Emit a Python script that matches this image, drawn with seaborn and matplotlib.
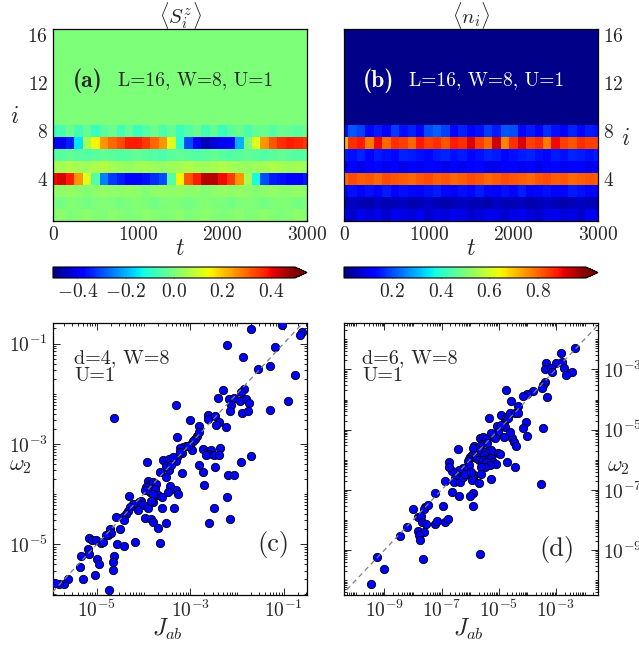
import numpy as np
import matplotlib
matplotlib.use("Agg")
import matplotlib.pyplot as plt
from matplotlib.ticker import LogLocator, NullFormatter
import seaborn as sns

# ---- heatmap data: rows i=1..8, sampled every 100 in t ----
t = np.arange(0, 3001, 100)
sites = np.arange(1, 17)

sz_row1 = [0.01, 0.02, 0.0, 0.01, 0.02, 0.01, 0.0, 0.02, 0.01, 0.0, 0.01, 0.02, 0.01, 0.0, 0.01, 0.02,
           0.0, 0.01, 0.02, 0.01, 0.0, 0.01, 0.02, 0.0, 0.01, 0.02, 0.01, 0.0, 0.01, 0.02, 0.01]
sz_row2 = [0.0, -0.01, 0.01, 0.0, -0.01, 0.0, 0.01, 0.0, -0.01, 0.0, 0.01, 0.0, -0.01, 0.0, 0.01, 0.0,
           -0.01, 0.0, 0.01, 0.0, 0.0, -0.01, 0.0, 0.01, 0.0, -0.01, 0.0, 0.01, 0.0, -0.01, 0.0]
sz_row3 = [0.03, 0.02, 0.03, 0.02, 0.01, 0.02, 0.03, 0.02, 0.02, 0.03, 0.02, 0.01, 0.02, 0.03, 0.02, 0.03,
           0.02, 0.02, 0.01, 0.02, 0.03, 0.02, 0.03, 0.02, 0.01, 0.02, 0.03, 0.02, 0.02, 0.03, 0.02]
sz_row4 = [0.40, 0.42, 0.38, 0.25, 0.12, -0.05, -0.25, -0.32, -0.35, -0.38, -0.38, -0.36, -0.33, -0.30, -0.05, 0.15,
           0.32, 0.38, 0.45, 0.45, 0.40, 0.35, 0.25, 0.05, -0.12, -0.30, -0.35, -0.36, -0.38, -0.38, -0.35]
sz_row5 = [0.04, 0.05, 0.06, 0.05, 0.04, 0.06, 0.07, 0.05, 0.04, 0.03, 0.04, 0.05, 0.04, 0.03, 0.04, 0.05,
           0.06, 0.05, 0.04, 0.05, 0.06, 0.05, 0.04, 0.03, 0.04, 0.05, 0.06, 0.05, 0.04, 0.05, 0.04]
sz_row6 = [-0.05, -0.04, -0.03, -0.04, -0.05, -0.04, -0.03, -0.04, -0.05, -0.04, -0.03, -0.04, -0.05, -0.06, -0.04, -0.03,
           -0.04, -0.05, -0.04, -0.03, -0.04, -0.05, -0.04, -0.03, -0.04, -0.05, -0.04, -0.03, -0.04, -0.05, -0.04]
sz_row7 = [-0.40, -0.40, -0.35, -0.15, 0.05, 0.15, 0.25, 0.30, 0.33, 0.38, 0.38, 0.35, 0.30, 0.25, 0.12, -0.10,
           -0.30, -0.38, -0.45, -0.42, -0.40, -0.38, -0.20, 0.0, 0.12, 0.25, 0.32, 0.36, 0.38, 0.37, 0.35]
sz_row8 = [-0.08, -0.06, -0.02, -0.07, -0.03, -0.08, -0.04, -0.02, -0.07, -0.03, -0.08, -0.05, -0.02, -0.06, -0.03, -0.08,
           -0.05, -0.02, -0.07, -0.03, -0.08, -0.04, -0.02, -0.06, -0.03, -0.02, -0.05, -0.02, -0.03, -0.04, -0.02]
sz_upper = 0.0

n_row1 = [0.09, 0.07, 0.10, 0.08, 0.09, 0.07, 0.10, 0.09, 0.08, 0.10, 0.07, 0.09, 0.08, 0.10, 0.09, 0.07,
          0.08, 0.10, 0.09, 0.07, 0.09, 0.10, 0.08, 0.07, 0.09, 0.10, 0.08, 0.09, 0.07, 0.10, 0.09]
n_row2 = [0.05, 0.06, 0.05, 0.04, 0.06, 0.05, 0.05, 0.06, 0.04, 0.05, 0.06, 0.05, 0.04, 0.05, 0.06, 0.05,
          0.05, 0.04, 0.06, 0.05, 0.05, 0.06, 0.04, 0.05, 0.06, 0.05, 0.04, 0.05, 0.06, 0.05, 0.05]
n_row3 = [0.13, 0.14, 0.12, 0.14, 0.13, 0.15, 0.12, 0.14, 0.13, 0.12, 0.14, 0.15, 0.13, 0.12, 0.14, 0.13,
          0.15, 0.13, 0.12, 0.14, 0.13, 0.15, 0.12, 0.13, 0.14, 0.12, 0.13, 0.15, 0.14, 0.12, 0.13]
n_row4 = [0.80, 0.83, 0.81, 0.82, 0.80, 0.83, 0.82, 0.81, 0.80, 0.82, 0.83, 0.81, 0.82, 0.80, 0.81, 0.83,
          0.82, 0.80, 0.81, 0.83, 0.82, 0.81, 0.80, 0.82, 0.83, 0.81, 0.82, 0.80, 0.81, 0.82, 0.81]
n_row5 = [0.10, 0.12, 0.09, 0.11, 0.13, 0.10, 0.12, 0.09, 0.11, 0.10, 0.13, 0.11, 0.09, 0.12, 0.10, 0.11,
          0.13, 0.10, 0.09, 0.12, 0.11, 0.10, 0.12, 0.09, 0.11, 0.13, 0.10, 0.12, 0.11, 0.09, 0.11]
n_row6 = [0.15, 0.14, 0.16, 0.13, 0.15, 0.14, 0.13, 0.16, 0.15, 0.14, 0.13, 0.15, 0.16, 0.14, 0.15, 0.13,
          0.14, 0.16, 0.15, 0.13, 0.14, 0.15, 0.16, 0.14, 0.13, 0.15, 0.14, 0.16, 0.15, 0.14, 0.15]
n_row7 = [0.72, 0.86, 0.88, 0.78, 0.90, 0.80, 0.86, 0.84, 0.80, 0.88, 0.84, 0.86, 0.82, 0.88, 0.86, 0.92,
          0.84, 0.80, 0.93, 0.77, 0.86, 0.92, 0.84, 0.86, 0.78, 0.90, 0.84, 0.82, 0.86, 0.84, 0.84]
n_row8 = [0.14, 0.21, 0.19, 0.13, 0.15, 0.12, 0.18, 0.14, 0.16, 0.12, 0.20, 0.22, 0.19, 0.13, 0.16, 0.12,
          0.14, 0.18, 0.15, 0.21, 0.20, 0.13, 0.15, 0.12, 0.17, 0.14, 0.12, 0.16, 0.13, 0.15, 0.14]
n_upper = 0.01

# ---- scatter data (log10 values) ----
c_jab_log = [-1.04, -1.69, -0.61, -0.66, -2.21, -1.19, -1.87, -1.54, -1.29, -0.76,
             -2.29, -1.86, -1.91, -2.40, -2.18, -2.06, -1.93, -1.81, -1.75, -2.12,
             -2.14, -1.89, -1.77, -1.29, -0.91, -3.31, -2.61, -2.62, -2.48, -3.01,
             -2.38, -2.45, -2.82, -2.23, -3.29, -2.85, -2.89, -2.94, -3.01, -3.09,
             -3.16, -3.23, -2.96, -3.18, -3.28, -2.73, -2.62, -2.56, -2.37, -2.61,
             -2.49, -2.39, -2.66, -1.69, -1.91, -2.82, -2.46, -3.17, -2.73, -2.19,
             -2.06, -2.71, -3.30, -3.26, -2.21, -3.34, -2.50, -2.15, -2.59, -3.30,
             -3.93, -3.59, -3.46, -3.37, -3.64, -3.46, -3.53, -3.91, -3.87, -3.80,
             -3.73, -3.94, -3.96, -3.87, -3.76, -3.43, -4.32, -3.69, -3.61, -4.09,
             -4.05, -4.11, -4.01, -4.23, -4.29, -4.34, -3.80, -3.91, -3.60, -4.11,
             -4.37, -4.44, -4.43, -4.59, -3.96, -3.84, -3.79, -4.51, -4.71, -4.76,
             -4.69, -4.81, -3.69, -3.53, -5.16, -5.11, -5.01, -4.91, -4.86, -4.56,
             -4.42, -4.18, -3.64, -5.19, -5.34, -5.17, -4.99, -4.64, -4.65, -4.96,
             -4.66, -5.37, -5.05, -5.29, -5.61, -5.71, -5.81, -5.89, -4.73, -4.64,
             -3.23, -3.05, -2.81, -3.51, -3.41, -3.80, -3.48, -3.84]
c_w2_log = [-0.62, -0.71, -0.77, -0.83, -1.03, -1.07, -1.26, -1.51, -1.44, -1.63,
            -1.92, -1.91, -1.97, -2.09, -2.10, -2.09, -2.15, -2.11, -2.19, -2.23,
            -2.35, -2.39, -2.35, -2.33, -2.15, -2.22, -2.42, -2.50, -2.45, -2.52,
            -2.57, -2.62, -2.65, -2.67, -2.86, -2.84, -2.90, -2.94, -3.02, -3.05,
            -3.06, -3.08, -3.12, -3.18, -3.27, -3.10, -3.14, -3.12, -3.08, -3.20,
            -3.22, -3.22, -3.23, -3.24, -3.35, -3.41, -3.45, -3.57, -3.55, -3.62,
            -3.62, -3.81, -3.92, -4.00, -4.05, -4.27, -4.28, -4.49, -4.58, -3.34,
            -3.35, -3.32, -3.30, -3.26, -3.55, -3.52, -3.65, -3.74, -3.81, -3.75,
            -3.79, -3.85, -3.92, -3.95, -3.89, -3.83, -4.03, -4.02, -4.05, -4.15,
            -4.14, -4.18, -4.22, -4.20, -4.26, -4.34, -4.15, -4.27, -4.27, -4.32,
            -4.40, -4.45, -4.52, -4.46, -4.48, -4.50, -4.55, -4.69, -4.69, -4.81,
            -4.78, -4.81, -4.67, -4.57, -4.88, -4.91, -4.91, -4.98, -4.95, -5.00,
            -5.03, -4.96, -4.97, -5.10, -5.23, -5.20, -5.30, -5.24, -5.36, -5.40,
            -5.51, -5.46, -5.62, -5.69, -5.69, -5.79, -5.80, -5.78, -5.91, -2.49,
            -3.16, -3.04, -2.76, -3.43, -3.42, -3.99, -3.95, -4.14]

d_jab_log = [-2.35, -2.81, -2.99, -2.79, -2.72, -3.34, -3.37, -3.19, -3.14, -2.44,
             -2.64, -3.40, -3.44, -3.49, -3.30, -4.76, -3.80, -4.00, -4.14, -4.56,
             -4.33, -4.06, -3.44, -4.15, -4.00, -5.35, -4.91, -4.79, -4.73, -4.67,
             -4.62, -5.06, -4.79, -4.93, -4.44, -4.33, -5.02, -4.83, -4.53, -4.47,
             -4.38, -4.59, -5.16, -5.12, -5.28, -5.66, -5.55, -5.49, -5.43, -5.40,
             -5.86, -5.90, -5.66, -5.64, -5.26, -5.02, -4.97, -5.49, -5.51, -5.40,
             -5.26, -4.70, -5.93, -6.01, -6.05, -5.78, -5.70, -5.60, -5.55, -6.09,
             -5.43, -5.20, -5.08, -5.31, -5.47, -5.63, -6.07, -4.44, -6.13, -5.86,
             -5.63, -5.90, -5.93, -5.69, -5.26, -3.51, -5.90, -5.99, -5.90, -5.66,
             -6.74, -6.05, -6.24, -6.40, -6.48, -6.65, -6.53, -6.56, -6.36, -6.24,
             -6.19, -5.98, -6.88, -6.63, -6.40, -7.23, -6.94, -7.58, -7.60, -7.47,
             -7.99, -7.84, -7.73, -7.67, -7.55, -7.23, -7.15, -6.88, -6.77, -8.22,
             -7.81, -7.60, -7.79, -7.76, -8.45, -9.24, -7.66, -9.00, -9.47, -6.73,
             -6.42]
d_w2_log = [-2.30, -2.47, -2.78, -2.77, -2.94, -2.78, -3.00, -2.97, -3.08, -3.08,
            -3.17, -3.41, -3.52, -3.63, -3.93, -3.69, -3.72, -3.83, -3.87, -4.05,
            -4.20, -4.76, -4.96, -4.96, -5.20, -4.60, -4.51, -4.68, -4.57, -4.62,
            -4.46, -4.87, -4.90, -4.85, -4.46, -4.46, -5.07, -5.23, -5.27, -5.42,
            -5.53, -5.07, -5.23, -5.29, -5.12, -5.29, -5.23, -5.40, -5.31, -5.45,
            -5.53, -5.60, -5.53, -5.67, -5.67, -5.78, -5.82, -5.73, -5.84, -5.97,
            -5.95, -6.06, -5.84, -5.90, -5.97, -5.95, -6.01, -6.06, -6.01, -6.04,
            -6.07, -6.07, -6.13, -6.16, -6.24, -6.24, -6.24, -6.24, -6.46, -6.51,
            -6.46, -6.62, -6.68, -6.76, -6.65, -6.81, -7.09, -7.20, -7.53, -9.14,
            -6.07, -6.18, -6.29, -6.35, -6.46, -6.38, -6.62, -6.73, -6.73, -6.57,
            -6.46, -6.40, -6.71, -7.07, -7.20, -7.09, -7.53, -7.56, -7.62, -7.51,
            -7.62, -7.90, -7.87, -8.06, -8.14, -8.14, -8.03, -8.06, -7.97, -8.23,
            -8.37, -8.39, -8.50, -8.67, -8.54, -9.22, -9.29, -9.63, -10.14, -6.24,
            -5.65]

sns.set_style("ticks")
plt.rcParams["font.family"] = ["serif"]
plt.rcParams["font.serif"] = ["cmr10"]
plt.rcParams["mathtext.fontset"] = "cm"
plt.rcParams["axes.formatter.use_mathtext"] = True
plt.rcParams["axes.edgecolor"] = "black"
plt.rcParams["axes.linewidth"] = 0.9

sz = np.vstack([sz_row1, sz_row2, sz_row3, sz_row4, sz_row5, sz_row6, sz_row7, sz_row8]
               + [np.full(len(t), sz_upper)] * 8)
nn = np.vstack([n_row1, n_row2, n_row3, n_row4, n_row5, n_row6, n_row7, n_row8]
               + [np.full(len(t), n_upper)] * 8)

fig = plt.figure(figsize=(6.39, 6.51), dpi=100)

W = 254 / 639
ax_a = fig.add_axes([53 / 639, 1 - 221 / 651, W, 192 / 651])
ax_b = fig.add_axes([344 / 639, 1 - 221 / 651, W, 192 / 651])
cax_a = fig.add_axes([53 / 639, 1 - 278 / 651, W, 11 / 651])
cax_b = fig.add_axes([344 / 639, 1 - 278 / 651, W, 11 / 651])
ax_c = fig.add_axes([53 / 639, 1 - 595 / 651, W, 272 / 651])
ax_d = fig.add_axes([344 / 639, 1 - 595 / 651, W, 272 / 651])

TICK = 14

m_a = ax_a.pcolormesh(t, sites, sz, cmap="jet", vmin=-0.5, vmax=0.5, shading="nearest")
m_b = ax_b.pcolormesh(t, sites, nn, cmap="jet", vmin=0.0, vmax=1.0, shading="nearest")

for ax in (ax_a, ax_b):
    ax.set_xlim(0, 3000)
    ax.set_ylim(0.5, 16.5)
    ax.set_xticks([0, 1000, 2000, 3000])
    ax.set_yticks([4, 8, 12, 16])
    ax.tick_params(direction="in", top=True, right=True, labelsize=TICK, length=4, width=0.8)
    ax.set_xlabel(r"$t$", fontsize=17)
    ax.xaxis.set_label_coords(0.5, -0.09)

ax_a.set_ylabel(r"$i$", fontsize=17, rotation=0, va="center")
ax_a.yaxis.set_label_coords(-0.15, 0.54)
ax_b.yaxis.tick_right()
ax_b.tick_params(left=True, labelleft=False, labelright=True)
ax_b.yaxis.set_label_position("right")
ax_b.set_ylabel(r"$i$", fontsize=17, rotation=0, va="center")
ax_b.yaxis.set_label_coords(1.11, 0.43)

ax_a.set_title(r"$\langle S_i^z\rangle$", fontsize=15, pad=4)
ax_b.set_title(r"$\langle n_i\rangle$", fontsize=15, pad=4)

ax_a.text(236, 12.2, "(a)", fontfamily="cmb10", fontsize=17, va="center")
ax_a.text(768, 12.2, "L=16, W=8, U=1", fontsize=14, va="center")
ax_b.text(224, 12.2, "(b)", fontfamily="cmb10", fontsize=17, va="center", color="white")
ax_b.text(768, 12.2, "L=16, W=8, U=1", fontsize=14, va="center", color="white")

cb_a = fig.colorbar(m_a, cax=cax_a, orientation="horizontal", extend="max",
                    ticks=[-0.4, -0.2, 0.0, 0.2, 0.4])
cb_b = fig.colorbar(m_b, cax=cax_b, orientation="horizontal", extend="max",
                    ticks=[0.2, 0.4, 0.6, 0.8])
cb_a.ax.set_xticklabels([r"$-0.4$", r"$-0.2$", r"$0.0$", r"$0.2$", r"$0.4$"])
cb_b.ax.set_xticklabels([r"$0.2$", r"$0.4$", r"$0.6$", r"$0.8$"])
for cb in (cb_a, cb_b):
    cb.ax.tick_params(direction="in", labelsize=TICK, length=3, width=0.6, top=True)
    cb.outline.set_linewidth(0.8)

# ---- scatter panels ----
for ax, xs, ys in ((ax_c, c_jab_log, c_w2_log), (ax_d, d_jab_log, d_w2_log)):
    sns.scatterplot(x=10.0 ** np.array(xs), y=10.0 ** np.array(ys), ax=ax, color="#0000ff",
                    edgecolor="black", linewidth=0.6, s=36, zorder=3, legend=False)
    ax.set_xscale("log")
    ax.set_yscale("log")
    diag = np.array([1e-12, 1.0])
    ax.plot(diag, diag, ls=(0, (4, 3)), color="gray", lw=0.9, zorder=4)
    for axis in (ax.xaxis, ax.yaxis):
        axis.set_minor_locator(LogLocator(base=10, subs=np.arange(1, 10), numticks=60))
        axis.set_minor_formatter(NullFormatter())
    ax.tick_params(which="both", direction="in", top=True, right=True, labelsize=TICK, width=0.7)
    ax.tick_params(which="major", length=5)
    ax.tick_params(which="minor", length=2.5)
    ax.set_xlabel(r"$J_{ab}$", fontsize=17)
    ax.set_ylabel(r"$\omega_2$", fontsize=16, rotation=0, va="center")

ax_c.set_xlim(10 ** -5.94, 10 ** -0.5)
ax_c.set_ylim(10 ** -6.01, 10 ** -0.59)
ax_c.set_xticks([1e-5, 1e-3, 1e-1])
ax_c.set_yticks([1e-5, 1e-3, 1e-1])
ax_c.xaxis.set_label_coords(0.45, -0.08)
ax_c.yaxis.set_label_coords(-0.13, 0.475)
ax_c.text(0.083, 0.905, "d=4, W=8\nU=1", transform=ax_c.transAxes, fontsize=14.5,
          va="top", linespacing=1.0)
ax_c.text(0.866, 0.184, "(c)", transform=ax_c.transAxes, fontsize=19, ha="center", va="center")

ax_d.set_xlim(10 ** -10.41, 10 ** -1.53)
ax_d.set_ylim(10 ** -10.49, 10 ** -1.46)
ax_d.set_xticks([1e-9, 1e-7, 1e-5, 1e-3])
ax_d.set_yticks([1e-9, 1e-7, 1e-5, 1e-3])
ax_d.yaxis.tick_right()
ax_d.tick_params(which="both", left=True, labelleft=False, labelright=True)
ax_d.yaxis.set_label_position("right")
ax_d.xaxis.set_label_coords(0.49, -0.08)
ax_d.yaxis.set_label_coords(1.08, 0.507)
ax_d.text(0.071, 0.905, "d=6, W=8\nU=1", transform=ax_d.transAxes, fontsize=14.5,
          va="top", linespacing=1.0)
ax_d.text(0.839, 0.169, "(d)", transform=ax_d.transAxes, fontsize=19, ha="center", va="center")

fig.savefig("out.png", dpi=100, facecolor="white")
